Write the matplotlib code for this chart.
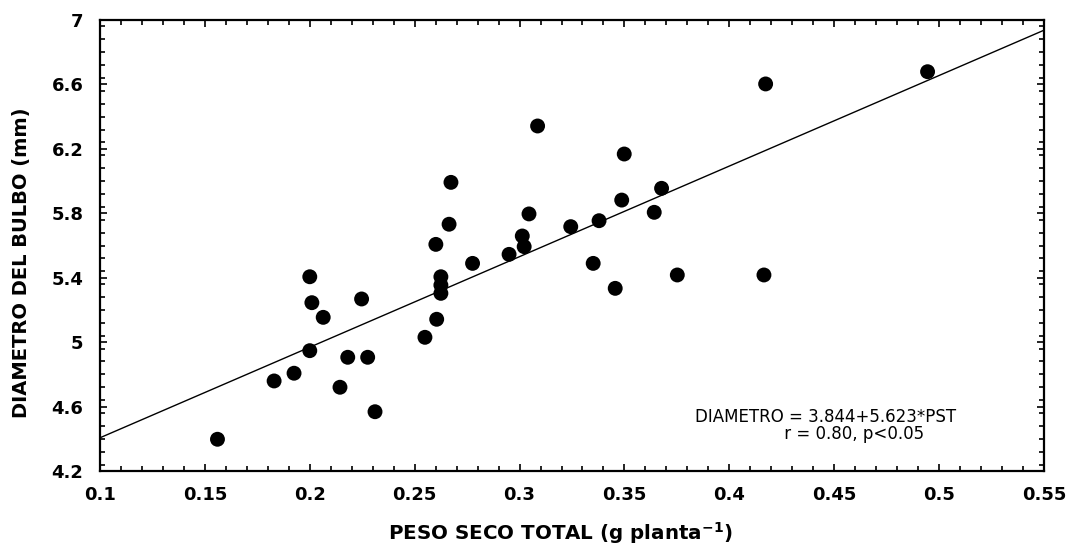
import matplotlib
matplotlib.use("Agg")
import matplotlib.pyplot as plt
from matplotlib.ticker import MultipleLocator, FixedLocator
import numpy as np

# Data
peso_seco = [0.156, 0.183, 0.1925, 0.200, 0.200, 0.201, 0.2064, 0.2144, 0.2181, 0.2247,
             0.2276, 0.2311, 0.2549, 0.2605, 0.2625, 0.2625, 0.2625, 0.2776, 0.3351, 0.3456,
             0.3752, 0.4165, 0.4173, 0.3086, 0.3499, 0.2673, 0.3677, 0.3487, 0.3642, 0.3045,
             0.3379, 0.3244, 0.2664, 0.3013, 0.3022, 0.2601, 0.2950, 0.4945]
diametro = [4.397, 4.759, 4.807, 4.947, 5.406, 5.245, 5.154, 4.720, 4.906, 5.268,
            4.906, 4.568, 5.030, 5.142, 5.406, 5.354, 5.303, 5.489, 5.489, 5.334,
            5.417, 5.417, 6.603, 6.342, 6.168, 5.992, 5.955, 5.882, 5.806, 5.796,
            5.754, 5.717, 5.732, 5.659, 5.593, 5.607, 5.545, 6.679]
intercepto = 3.844
pendiente = 5.623
x_ticks = [0.1, 0.15, 0.2, 0.25, 0.3, 0.35, 0.4, 0.45, 0.5, 0.55]
y_ticks = [4.2, 4.6, 5.0, 5.4, 5.8, 6.2, 6.6, 7.0]
x_ticklabels = ["0.1", "0.15", "0.2", "0.25", "0.3", "0.35", "0.4", "0.45", "0.5", "0.55"]
y_ticklabels = ["4.2", "4.6", "5", "5.4", "5.8", "6.2", "6.6", "7"]

fig = plt.figure(figsize=(10.70, 5.52), dpi=100)
ax = fig.add_axes([100/1070, 1 - 471/552, 944/1070, 451/552])

xl = np.array([0.1, 0.55])
ax.plot(xl, intercepto + pendiente * xl, color="black", lw=1.0, zorder=2)
ax.scatter(peso_seco, diametro, s=115, color="black", edgecolors="none", zorder=3)

ax.set_xlim(0.1, 0.55)
ax.set_ylim(4.2, 7.0)
ax.xaxis.set_major_locator(FixedLocator(x_ticks))
ax.yaxis.set_major_locator(FixedLocator(y_ticks))
ax.set_xticklabels(x_ticklabels)
ax.set_yticklabels(y_ticklabels)
ax.xaxis.set_minor_locator(MultipleLocator(0.01))
ax.yaxis.set_minor_locator(MultipleLocator(0.08))
ax.tick_params(which="both", direction="in", top=True, right=True, width=1.2, color="black")
ax.tick_params(which="major", length=5)
ax.tick_params(which="minor", length=3.5)
ax.tick_params(axis="x", which="major", pad=11)
ax.tick_params(axis="y", which="major", pad=12)
for lab in ax.get_xticklabels() + ax.get_yticklabels():
    lab.set_fontfamily("DejaVu Sans")
    lab.set_fontweight("bold")
    lab.set_fontsize(13)
for sp in ax.spines.values():
    sp.set_linewidth(1.6)

ax.text((560-100)/944, (471-533)/451, r"PESO SECO TOTAL (g planta$^{\mathbf{-1}}$)",
        transform=ax.transAxes, ha="center", va="center",
        fontsize=14.3, fontweight="bold", family="DejaVu Sans")
ax.text((22-100)/944, (471-263)/451, "DIAMETRO DEL BULBO (mm)",
        transform=ax.transAxes, ha="center", va="center", rotation=90,
        fontsize=14, fontweight="bold", family="DejaVu Sans")

anot = "DIAMETRO = 3.844+5.623*PST\n" + " " * 17 + "r = 0.80, p<0.05"
ax.text(0.3836, 4.484, anot, ha="left", va="center", multialignment="left",
        linespacing=0.95, fontsize=12, family="DejaVu Sans")

fig.savefig("out.png", dpi=100, facecolor="white")
